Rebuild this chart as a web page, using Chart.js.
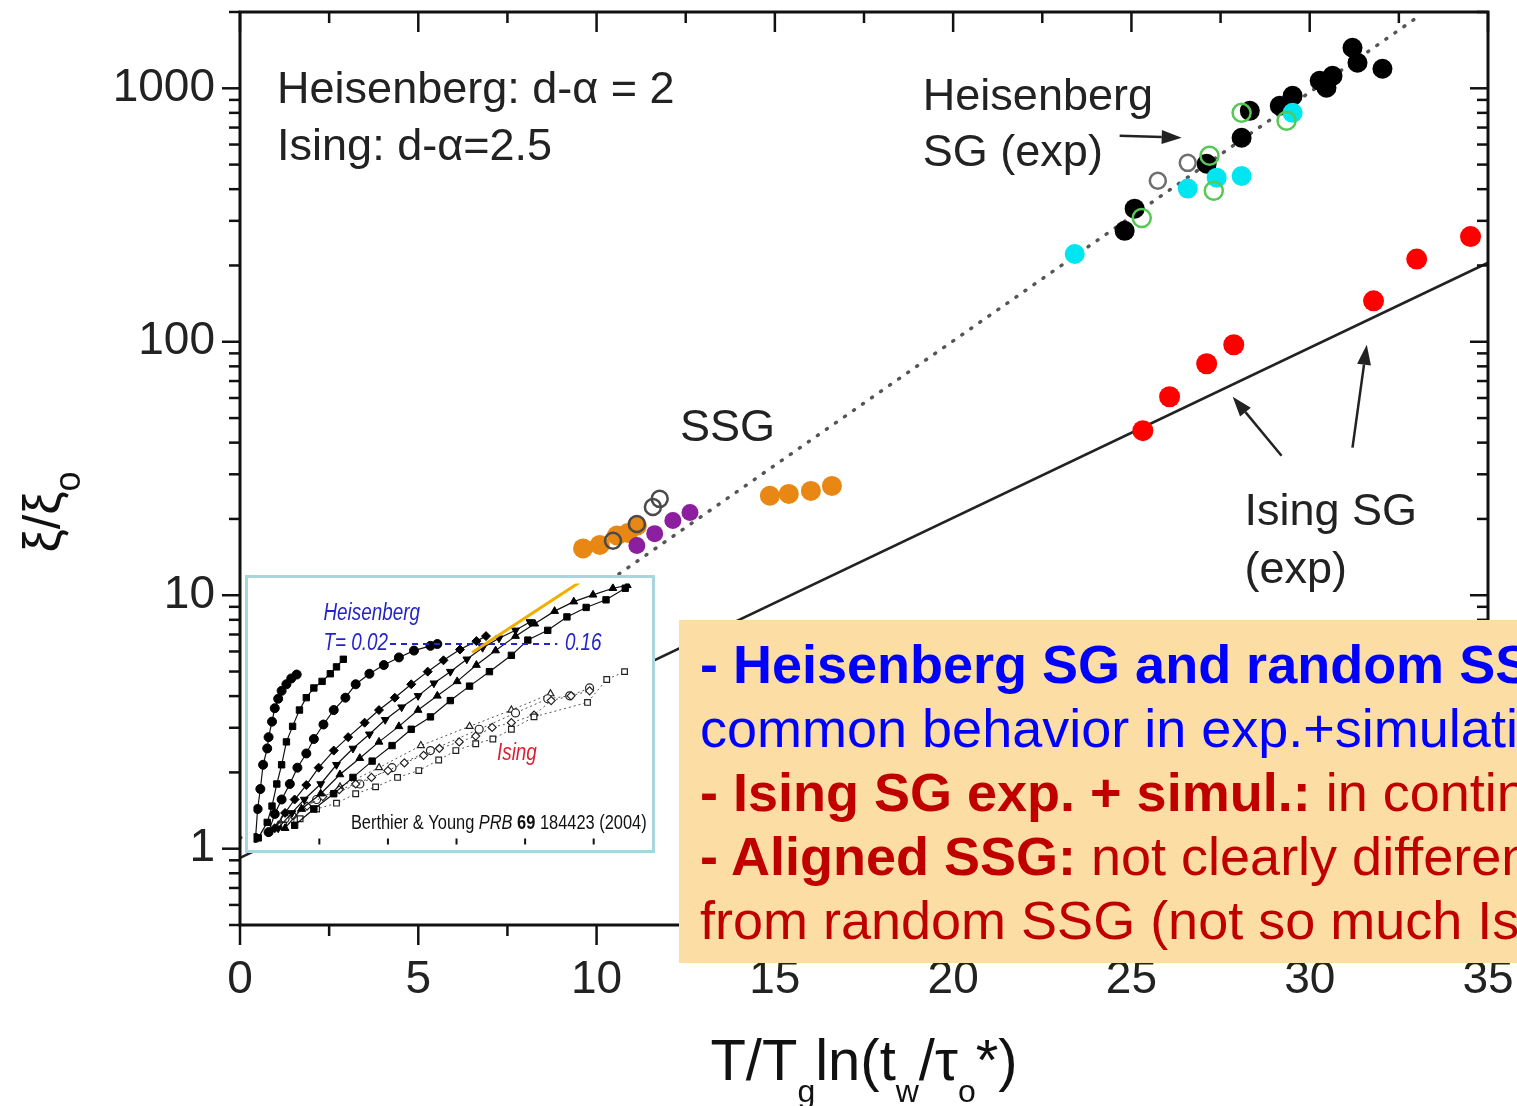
<!DOCTYPE html>
<html><head><meta charset="utf-8">
<script src="https://cdn.jsdelivr.net/npm/chart.js@4.4.1/dist/chart.umd.min.js"></script>
<style>
html,body{margin:0;padding:0;background:#fff;overflow:hidden;width:1517px;height:1106px;}
#wrap{position:relative;width:1517px;height:1106px;overflow:hidden;}
#main{position:absolute;left:0;top:0;}
#insetBox{position:absolute;left:245px;top:575px;border:3px solid #a9d6de;background:#fff;width:404px;height:272px;}
#inset{display:block;}
#note{position:absolute;left:679px;top:620px;width:900px;height:343px;background:#fcdea4;padding:12px 0 0 21px;box-sizing:border-box;font-family:"Liberation Sans",Arial,sans-serif;font-size:54px;line-height:64px;white-space:nowrap;}
#note b{font-weight:bold;}
</style>
</head><body>
<div id="wrap">
<canvas id="main" width="1517" height="1106"></canvas>
<div id="insetBox"><canvas id="inset" width="404" height="272"></canvas></div>
<div id="note">
<div style="color:#0000ff"><b>- Heisenberg SG and random SSG</b></div>
<div style="color:#0000ff">common behavior in exp.+simulation</div>
<div style="color:#c00000"><b>- Ising SG exp. + simul.:</b> in continuity</div>
<div style="color:#c00000"><b>- Aligned SSG:</b> not clearly different</div>
<div style="color:#c00000">from random SSG (not so much Ising)</div>
</div>
</div>
<script>
// ---------- main chart data ----------
const xTickValues = [0, 5, 10, 15, 20, 25, 30, 35];
const yTickValues = [1, 10, 100, 1000];

const heisLineX = [0, 33];
const heisLineY = [1.1, 1900];
const isingLineX = [0, 35];
const isingLineY = [0.92, 205];

const redX = [25.32, 26.07, 27.11, 27.87, 31.79, 33.00, 34.51];
const redY = [44.6, 60.7, 81.9, 97.3, 145, 212, 260];

const blackX = [24.81, 25.09, 27.11, 28.09, 28.32, 29.16, 29.52, 30.28, 30.64, 30.47, 31.20, 31.34, 32.04];
const blackY = [274, 335, 504, 638, 815, 853, 934, 1071, 1120, 1005, 1445, 1261, 1194];

const cyanX = [23.41, 26.58, 27.39, 28.09, 29.52];
const cyanY = [222, 402, 444, 451, 800];

const greenRingX = [25.29, 27.19, 27.31, 28.09, 29.35];
const greenRingY = [308, 542, 394, 800, 745];

const grayRingX = [25.74, 26.58];
const grayRingY = [432, 508];

const orangeX = [9.62, 10.09, 10.57, 10.88, 11.13, 14.86, 15.39, 16.01, 16.60];
const orangeY = [15.3, 15.8, 17.2, 17.6, 18.8, 24.7, 25.1, 25.8, 27.0];

const purpleX = [11.13, 11.63, 12.14, 12.62];
const purpleY = [15.7, 17.5, 19.7, 21.2];

const ssgRingX = [10.46, 11.13, 11.58, 11.77];
const ssgRingY = [16.4, 19.1, 22.3, 24.0];

// ---------- inset data (Berthier & Young) ----------
const insetTickValues = [1, 2, 3, 4, 5];
const inC1X = [.07,.10,.14,.18,.24,.26,.31,.35,.40,.45,.52,.59,.67];
const inC1Y = [.29,1.39,2.15,3.07,3.69,4.12,4.71,5.22,5.58,5.88,6.13,6.35,6.50];
const inC2X = [.11,.24,.31,.38,.45,.52,.61,.71,.81,.92,1.04,1.16,1.25,1.35];
const inC2Y = [.29,.88,1.50,2.34,3.07,3.94,4.53,5.15,5.62,5.99,6.24,6.53,6.79,7.08];
const inC3X = [.26,.35,.45,.57,.68,.81,.92,1.06,1.21,1.38,1.53,1.73,1.94,2.16,2.38,2.62,2.72];
const inC3Y = [.51,1.20,1.75,2.34,2.96,3.50,4.05,4.60,5.15,5.62,6.13,6.53,6.86,7.15,7.41,7.59,7.66];
const inC4X = [.35,.50,.64,.81,.99,1.21,1.42,1.66,1.87,2.10,2.34,2.58,2.81,3.05,3.29,3.43];
const inC4Y = [.66,1.24,1.75,2.30,2.96,3.61,4.12,4.67,5.15,5.62,6.13,6.61,7.04,7.45,7.77,7.96];
const inC5X = [.40,.60,.78,1.02,1.25,1.49,1.73,1.96,2.20,2.44,2.67,2.91,3.15,3.38,3.62,3.86,4.07];
const inC5Y = [.66,1.24,1.75,2.34,3.07,3.69,4.23,4.78,5.26,5.69,6.17,6.61,7.08,7.52,7.88,8.18,8.50];
const inC6X = [.50,.74,1.02,1.30,1.59,1.87,2.16,2.44,2.72,3.01,3.29,3.57,3.86,4.14,4.43,4.71,4.99,5.28,5.49];
const inC6Y = [.66,1.39,1.97,2.70,3.32,3.94,4.53,5.15,5.69,6.24,6.86,7.41,7.96,8.43,8.91,9.27,9.53,9.78,9.89];
const inC7X = [.64,.92,1.21,1.49,1.77,2.06,2.34,2.62,2.91,3.19,3.48,3.80,4.04,4.33,4.61,4.89,5.18,5.46];
const inC7Y = [.77,1.39,1.97,2.59,3.21,3.80,4.42,4.89,5.51,6.06,6.61,7.23,7.81,8.18,8.69,9.05,9.34,9.78];
const inIsqX = [.48,.72,.96,1.25,1.53,1.82,2.14,2.45,2.74,2.99,3.28,3.53,3.80,4.13,4.91,5.19,5.45];
const inIsqY = [.77,1.02,1.39,1.61,1.97,2.23,2.59,2.85,3.25,3.61,3.87,4.05,4.42,4.89,5.44,6.31,6.61];
const inIdmX = [.44,.62,.82,1.05,1.29,1.53,1.76,2.00,2.24,2.52,2.75,3.04,3.28,3.52,3.80,4.13,4.38,4.67,4.94];
const inIdmY = [.77,1.13,1.50,1.86,2.12,2.34,2.59,2.85,3.14,3.43,3.69,3.94,4.16,4.49,4.67,4.96,5.51,5.69,5.88];
const inIciX = [.50,.96,1.59,2.06,2.62,3.33,3.86,4.33,4.65,4.94];
const inIciY = [1.02,1.75,2.34,2.96,3.61,4.42,5.04,5.58,5.69,5.99];
const inItrX = [.40,.74,1.30,1.87,2.48,3.19,3.80,4.37];
const inItrY = [.77,1.39,2.23,2.96,3.80,4.53,5.15,5.77];
const inOrangeX = [3.23, 4.79];
const inOrangeY = [7.34, 10.0];
const inDashX = [2.03, 4.47];
const inDashY = [7.66, 7.66];

const FONT = '"Liberation Sans", Arial, Helvetica, sans-serif';
const pts = (xs, ys) => xs.map((x, i) => ({x, y: ys[i]}));

// ---------- annotations (data coordinates) ----------
const mainNotes = [
  {text: 'Heisenberg: d-\u03b1 = 2', x: 1.04, y: 977},
  {text: 'Ising: d-\u03b1=2.5', x: 1.04, y: 582},
  {text: 'Heisenberg', x: 19.15, y: 918},
  {text: 'SG (exp)', x: 19.15, y: 552},
  {text: 'SSG', x: 12.34, y: 45.4},
  {text: 'Ising SG', x: 28.17, y: 21.2},
  {text: '(exp)', x: 28.17, y: 12.5}
];
const mainArrows = [
  {x1: 24.67, y1: 650, x2: 26.41, y2: 638},
  {x1: 29.21, y1: 35.5, x2: 27.84, y2: 60.7},
  {x1: 31.20, y1: 38.2, x2: 31.60, y2: 97.3}
];

function drawSegs(ctx, segs, x, y, o) {
  let cx = x;
  for (const s of segs) {
    const size = s.sub ? o.subSize : o.size;
    ctx.font = (s.italic ? 'italic ' : '') + (s.bold ? 'bold ' : '') + size + 'px ' + FONT;
    ctx.fillStyle = s.color || o.color;
    ctx.fillText(s.t, cx, y + (s.sub ? o.subOffset : 0));
    cx += ctx.measureText(s.t).width;
  }
  return cx - x;
}
function measureSegs(ctx, segs, o) {
  let w = 0;
  for (const s of segs) {
    const size = s.sub ? o.subSize : o.size;
    ctx.font = (s.italic ? 'italic ' : '') + (s.bold ? 'bold ' : '') + size + 'px ' + FONT;
    w += ctx.measureText(s.t).width;
  }
  return w;
}

const mainDecor = {
  id: 'mainDecor',
  afterDraw(chart) {
    const {ctx, chartArea: {left, right, top, bottom}, scales: {x, y}} = chart;
    ctx.save();
    ctx.strokeStyle = '#111';
    ctx.lineWidth = 3;
    ctx.strokeRect(left, top, right - left, bottom - top);
    ctx.lineWidth = 2.5;
    const seg = (a, b, c, d) => { ctx.beginPath(); ctx.moveTo(a, b); ctx.lineTo(c, d); ctx.stroke(); };
    const xMin = xTickValues[0], xMax = xTickValues[xTickValues.length - 1];
    for (let v = xMin; v <= xMax + 1e-9; v += 2.5) {
      const px = x.getPixelForValue(v);
      const major = Math.abs(v / 5 - Math.round(v / 5)) < 1e-6;
      const L = major ? 20 : 11;
      seg(px, bottom, px, bottom + L);
      seg(px, top, px, top + L);
    }
    for (let d = -1; d <= 3; d++) {
      for (let m = 1; m <= 9; m++) {
        const v = m * Math.pow(10, d);
        if (v < y.min - 1e-9 || v > y.max + 1e-9) continue;
        const py = y.getPixelForValue(v);
        const L = m === 1 ? 18 : 11;
        seg(left - L, py, left, py);
        seg(right - L, py, right, py);
      }
    }
    // annotation texts
    ctx.fillStyle = '#222';
    ctx.font = '45px ' + FONT;
    ctx.textBaseline = 'middle';
    ctx.textAlign = 'left';
    for (const n of mainNotes) ctx.fillText(n.text, x.getPixelForValue(n.x), y.getPixelForValue(n.y));
    // arrows
    ctx.strokeStyle = '#222'; ctx.fillStyle = '#222'; ctx.lineWidth = 2.5;
    for (const a of mainArrows) {
      const x1 = x.getPixelForValue(a.x1), y1 = y.getPixelForValue(a.y1);
      const x2 = x.getPixelForValue(a.x2), y2 = y.getPixelForValue(a.y2);
      const ang = Math.atan2(y2 - y1, x2 - x1);
      const hl = 20, hw = 7;
      const bx = x2 - hl * Math.cos(ang), by = y2 - hl * Math.sin(ang);
      seg(x1, y1, bx, by);
      ctx.beginPath();
      ctx.moveTo(x2, y2);
      ctx.lineTo(bx + hw * Math.sin(ang), by - hw * Math.cos(ang));
      ctx.lineTo(bx - hw * Math.sin(ang), by + hw * Math.cos(ang));
      ctx.closePath(); ctx.fill();
    }
    // x axis title
    ctx.textBaseline = 'alphabetic';
    const xt = [{t: 'T/T'}, {t: 'g', sub: true}, {t: 'ln(t'}, {t: 'w', sub: true}, {t: '/\u03c4'}, {t: 'o', sub: true}, {t: '*)'}];
    const xo = {size: 58, subSize: 32, subOffset: 22, color: '#111'};
    const xw = measureSegs(ctx, xt, xo);
    drawSegs(ctx, xt, (left + right) / 2 - xw / 2, 1080, xo);
    // y axis title (rotated)
    const yt = [{t: '\u03be/\u03be'}, {t: 'o', sub: true}];
    const yo = {size: 52, subSize: 36, subOffset: 20, color: '#111'};
    const yw = measureSegs(ctx, yt, yo);
    ctx.translate(60, 512);
    ctx.rotate(-Math.PI / 2);
    drawSegs(ctx, yt, -yw / 2, 0, yo);
    ctx.restore();
  }
};

const ring = (data, color, r, w) => ({data, showLine: false, pointStyle: 'circle', pointRadius: r, backgroundColor: 'rgba(0,0,0,0)', borderColor: color, pointBorderWidth: w, borderWidth: w});
const dot = (data, color, r) => ({data, showLine: false, pointStyle: 'circle', pointRadius: r, backgroundColor: color, borderColor: color, borderWidth: 0});

new Chart(document.getElementById('main'), {
  type: 'scatter',
  data: {datasets: [
    ring(pts(ssgRingX, ssgRingY), '#4a4a4a', 8, 2.5),
    dot(pts(purpleX, purpleY), '#8c1ea0', 8.5),
    dot(pts(orangeX, orangeY), '#e88714', 10),
    ring(pts(greenRingX, greenRingY), '#55c855', 9, 2.5),
    ring(pts(grayRingX, grayRingY), '#6e6e6e', 8, 2.5),
    dot(pts(cyanX, cyanY), '#00e6f0', 10),
    dot(pts(blackX, blackY), '#000000', 10),
    dot(pts(redX, redY), '#ff0000', 10.5),
    {data: pts(heisLineX, heisLineY), showLine: true, pointRadius: 0, borderColor: '#555', borderWidth: 3.5, borderDash: [1, 10], borderCapStyle: 'round'},
    {data: pts(isingLineX, isingLineY), showLine: true, pointRadius: 0, borderColor: '#222', borderWidth: 2.5}
  ]},
  options: {
    responsive: false, animation: false, devicePixelRatio: 1,
    layout: {padding: {left: 0, top: 12, right: 29, bottom: 0}},
    plugins: {legend: {display: false}, tooltip: {enabled: false}},
    scales: {
      x: {
        type: 'linear', min: xTickValues[0], max: xTickValues[xTickValues.length - 1],
        grid: {display: false, drawTicks: false}, border: {display: false},
        afterBuildTicks(s) { s.ticks = xTickValues.map(v => ({value: v})); },
        ticks: {padding: 28, color: '#222', font: {family: FONT, size: 46}, maxRotation: 0, autoSkip: false, callback: v => String(v)},
        afterFit(s) { s.height = 181; s.paddingLeft = 0; s.paddingRight = 0; }
      },
      y: {
        type: 'logarithmic', min: 0.5, max: 2000,
        grid: {display: false, drawTicks: false}, border: {display: false},
        afterBuildTicks(s) { s.ticks = yTickValues.map(v => ({value: v, major: true})); },
        ticks: {padding: 25, color: '#222', font: {family: FONT, size: 46}, autoSkip: false, callback: v => String(v)},
        afterFit(s) { s.width = 240; s.paddingTop = 0; s.paddingBottom = 0; }
      }
    }
  },
  plugins: [mainDecor]
});

// ---------- inset ----------
const insetDecor = {
  id: 'insetDecor',
  afterDraw(chart) {
    const {ctx, chartArea: {bottom}, scales: {x, y}} = chart;
    ctx.save();
    ctx.strokeStyle = '#111'; ctx.lineWidth = 2;
    for (const v of insetTickValues) {
      const px = x.getPixelForValue(v);
      ctx.beginPath(); ctx.moveTo(px, bottom); ctx.lineTo(px, bottom - 6); ctx.stroke();
    }
    const txt = (segs, vx, vy, size, color) => {
      ctx.save();
      ctx.translate(x.getPixelForValue(vx), y.getPixelForValue(vy));
      ctx.scale(0.82, 1);
      ctx.textBaseline = 'middle'; ctx.textAlign = 'left';
      drawSegs(ctx, segs, 0, 0, {size, subSize: size, subOffset: 0, color});
      ctx.restore();
    };
    txt([{t: 'Heisenberg', italic: true}], 1.06, 8.80, 23, '#2424c8');
    txt([{t: 'T= 0.02', italic: true}], 1.06, 7.66, 23, '#2424c8');
    txt([{t: '0.16', italic: true}], 4.58, 7.66, 23, '#2424c8');
    txt([{t: 'Ising', italic: true}], 3.59, 3.50, 23, '#dd2030');
    txt([{t: 'Berthier & Young '}, {t: 'PRB', italic: true}, {t: ' '}, {t: '69', bold: true}, {t: ' 184423 (2004)'}], 1.46, 0.84, 20, '#111');
    ctx.restore();
  }
};
const hCurve = (xs, ys, style, rot) => ({data: pts(xs, ys), showLine: true, borderColor: '#111', borderWidth: 1.2, pointStyle: style, pointRotation: rot || 0, pointRadius: 4.5, pointBackgroundColor: '#000', pointBorderColor: '#000', pointBorderWidth: 1});
const iCurve = (xs, ys, style) => ({data: pts(xs, ys), showLine: true, borderColor: '#555', borderWidth: 1, borderDash: [2, 3], pointStyle: style, pointRadius: 4, pointBackgroundColor: '#fff', pointBorderColor: '#222', pointBorderWidth: 1.2});

new Chart(document.getElementById('inset'), {
  type: 'scatter',
  data: {datasets: [
    {data: pts(inOrangeX, inOrangeY), showLine: true, pointRadius: 0, borderColor: '#f0b000', borderWidth: 3},
    {data: pts(inDashX, inDashY), showLine: true, pointRadius: 0, borderColor: '#2424c8', borderWidth: 2, borderDash: [6, 5]},
    hCurve(inC1X, inC1Y, 'circle'),
    hCurve(inC2X, inC2Y, 'rect'),
    hCurve(inC3X, inC3Y, 'circle'),
    hCurve(inC4X, inC4Y, 'rectRot'),
    hCurve(inC5X, inC5Y, 'triangle', 180),
    hCurve(inC6X, inC6Y, 'triangle'),
    hCurve(inC7X, inC7Y, 'rect'),
    iCurve(inIsqX, inIsqY, 'rect'),
    iCurve(inIdmX, inIdmY, 'rectRot'),
    iCurve(inIciX, inIciY, 'circle'),
    iCurve(inItrX, inItrY, 'triangle')
  ]},
  options: {
    responsive: false, animation: false, devicePixelRatio: 1,
    layout: {padding: 0},
    plugins: {legend: {display: false}, tooltip: {enabled: false}},
    scales: {
      x: {type: 'linear', min: 0.04, max: 5.77, display: false},
      y: {type: 'linear', min: 0.04, max: 9.96, display: false}
    }
  },
  plugins: [insetDecor]
});
</script>
</body></html>
